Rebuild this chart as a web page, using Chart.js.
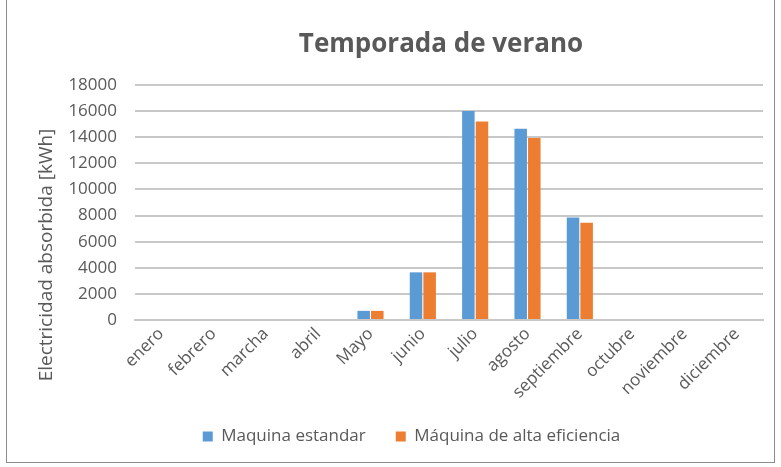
<!DOCTYPE html>
<html>
<head>
<meta charset="utf-8">
<script src="https://cdn.jsdelivr.net/npm/chart.js@4/dist/chart.umd.min.js"></script>
<style>
  html, body { margin: 0; padding: 0; background: #fff; }
  #wrap { position: relative; width: 781px; height: 467px; }
  #frame { position: absolute; left: 6px; top: 0; width: 767px; height: 462px; border: 1px solid #8c8c8c; border-top: none; pointer-events: none; }
</style>
</head>
<body>
<div id="wrap">
  <canvas id="consumoVerano" width="781" height="467"></canvas>
  <div id="frame"></div>
</div>
<script>
const meses = ['enero', 'febrero', 'marcha', 'abril', 'Mayo', 'junio', 'julio', 'agosto', 'septiembre', 'octubre', 'noviembre', 'diciembre'];
const maquinaEstandar = [0, 0, 0, 0, 700, 3650, 16000, 14650, 7850, 0, 0, 0];
const maquinaEficiente = [0, 0, 0, 0, 700, 3650, 15200, 13950, 7450, 0, 0, 0];
const ticksY = [0, 2000, 4000, 6000, 8000, 10000, 12000, 14000, 16000, 18000];

const tituloGrafico = 'Temporada de verano',
    tituloEjeY = 'Electricidad absorbida [kWh]';

const gris = '#595959',
    fuente = "'Open Sans', sans-serif";

// title and y axis title, drawn like Excel does (centered on plot, not canvas)
const textosExcel = {
    id: 'textosExcel',
    afterDraw(chart) {
        const ctx = chart.ctx,
            area = chart.chartArea;
        ctx.save();
        ctx.fillStyle = gris;
        ctx.textAlign = 'center';
        ctx.textBaseline = 'middle';
        ctx.font = "bold 26px " + fuente;
        ctx.fillText(tituloGrafico, (area.left + area.right) / 2 - 8, 45);

        ctx.font = "19px " + fuente;
        ctx.translate(47, area.bottom - 65);
        ctx.rotate(-Math.PI / 2);
        ctx.fillText(tituloEjeY, 0, 0);
        ctx.restore();
    }
};

new Chart(document.getElementById('consumoVerano'), {
    type: 'bar',
    plugins: [textosExcel],
    data: {
        labels: meses,
        datasets: [
            {
                label: 'Maquina estandar',
                data: maquinaEstandar,
                backgroundColor: '#5b9bd5',
                categoryPercentage: 0.52,
                barPercentage: 0.92,
            },
            {
                label: 'Máquina de alta eficiencia',
                data: maquinaEficiente,
                backgroundColor: '#ed7d31',
                categoryPercentage: 0.52,
                barPercentage: 0.92,
            }
        ]
    },
    options: {
        responsive: false,
        animation: false,
        layout: {
            padding: { top: 85, left: 60, right: 18, bottom: 12 }
        },
        plugins: {
            legend: {
                position: 'bottom',
                labels: {
                    boxWidth: 10,
                    boxHeight: 10,
                    color: gris,
                    padding: 30,
                    font: { family: fuente, size: 17 }
                }
            },
            tooltip: { enabled: false }
        },
        scales: {
            x: {
                grid: { display: false, drawTicks: false },
                border: { color: '#c8c8c8', width: 2 },
                afterFit(scale) { scale.height = 78; },
                ticks: {
                    color: gris,
                    autoSkip: false,
                    maxRotation: 45,
                    minRotation: 45,
                    padding: 4,
                    font: { family: fuente, size: 17 }
                }
            },
            y: {
                min: 0,
                max: 18000,
                afterFit(scale) { scale.width = 75; },
                afterBuildTicks(scale) { scale.ticks = ticksY.map(v => ({ value: v })); },
                grid: { color: '#c8c8c8', lineWidth: 2, drawTicks: false },
                border: { display: false },
                ticks: {
                    color: gris,
                    padding: 18,
                    callback: v => String(v),
                    font: { family: fuente, size: 17 }
                }
            }
        }
    }
});
</script>
</body>
</html>
